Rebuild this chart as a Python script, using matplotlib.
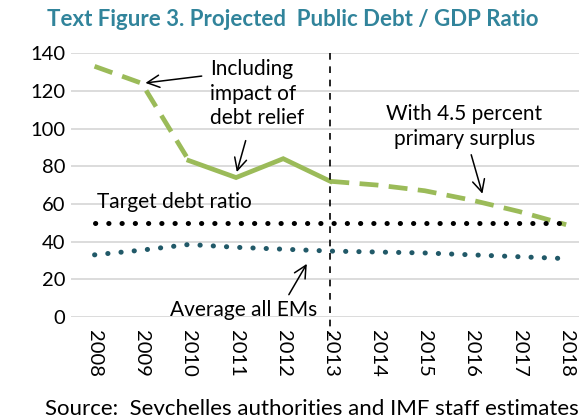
import matplotlib
matplotlib.use("Agg")
import matplotlib.pyplot as plt

plt.rcParams['font.family'] = ['Lato', 'DejaVu Sans']

years = ['2008', '2009', '2010', '2011', '2012', '2013',
         '2014', '2015', '2016', '2017', '2018']
debt = [133, 124, 83, 74, 84, 72, 70, 67, 62, 56, 49]
target = [50] * 11
em_avg = [33, 35.5, 38.5, 37, 36, 35, 34.5, 34, 33, 32, 31]

green = '#9BBB59'
teal = '#215968'
title_col = '#31849B'

fig = plt.figure(figsize=(5.79, 4.15), dpi=100)
ax = fig.add_axes([0.1226, 0.236, 0.896, 0.636])

x = list(range(len(years)))

# gridlines
for v in range(0, 141, 20):
    ax.axhline(v, color='#D9D9D9', lw=1.3, zorder=0)

# debt: dashed before 2010, solid 2010-2013, dashed after
ax.plot(x[:3], debt[:3], color=green, lw=3.4, dashes=(4, 2.2), clip_on=False)
ax.plot(x[2:6], debt[2:6], color=green, lw=3.4, solid_joinstyle='miter')
ax.plot(x[5:], debt[5:], color=green, lw=3.4, dashes=(4, 2.2), clip_on=False)

# dotted lines (round dots)
ax.plot(x, target, color='black', lw=3.6, linestyle=(0, (0.05, 2.6)),
        dash_capstyle='round', clip_on=False)
ax.plot(x, em_avg, color=teal, lw=3.6, linestyle=(0, (0.05, 2.6)),
        dash_capstyle='round', clip_on=False)

# 2013 divider
ax.plot([5, 5], [140, -10], color='black', lw=1.2, dashes=(4, 4),
        clip_on=False, zorder=5)

ax.set_xlim(-0.5, 10.5)
ax.set_ylim(0, 140)
ax.set_yticks(range(0, 141, 20))
ax.set_xticks(x)
ax.set_xticklabels(years, rotation=-90, va='top', ha='center')
ax.tick_params(axis='both', length=0, labelsize=14.5)
ax.tick_params(axis='x', pad=9)
ax.tick_params(axis='y', pad=4)
for s in ax.spines.values():
    s.set_visible(False)

arr = dict(arrowstyle='->', color='black', lw=1.1, mutation_scale=22)
fs = 15

ax.text(2.44, 137, 'Including\nimpact of\ndebt relief', fontsize=fs,
        va='top', ha='left', linespacing=1.3)
ax.annotate('', xy=(1.02, 124), xytext=(2.33, 128), arrowprops=arr)
ax.annotate('', xy=(3.0, 75.5), xytext=(3.22, 95), arrowprops=arr)

ax.text(7.84, 113, 'With 4.5 percent\nprimary surplus', fontsize=fs,
        va='top', ha='center', linespacing=1.3)
ax.annotate('', xy=(8.24, 64), xytext=(7.97, 87.5), arrowprops=arr)

ax.text(0.06, 61, 'Target debt ratio', fontsize=fs, va='center', ha='left')

ax.text(1.59, 4, 'Average all EMs', fontsize=fs, va='center', ha='left')
ax.annotate('', xy=(4.53, 29.5), xytext=(4.09, 10.6), arrowprops=arr)

fig.text(0.505, 0.952, 'Text Figure 3. Projected  Public Debt / GDP Ratio',
         color=title_col, fontsize=16, fontweight='bold', ha='center', va='center')
fig.text(0.078, 0.014, 'Source:  Seychelles authorities and IMF staff estimates',
         fontsize=16, ha='left', va='center')

fig.savefig('out.png', dpi=100)
